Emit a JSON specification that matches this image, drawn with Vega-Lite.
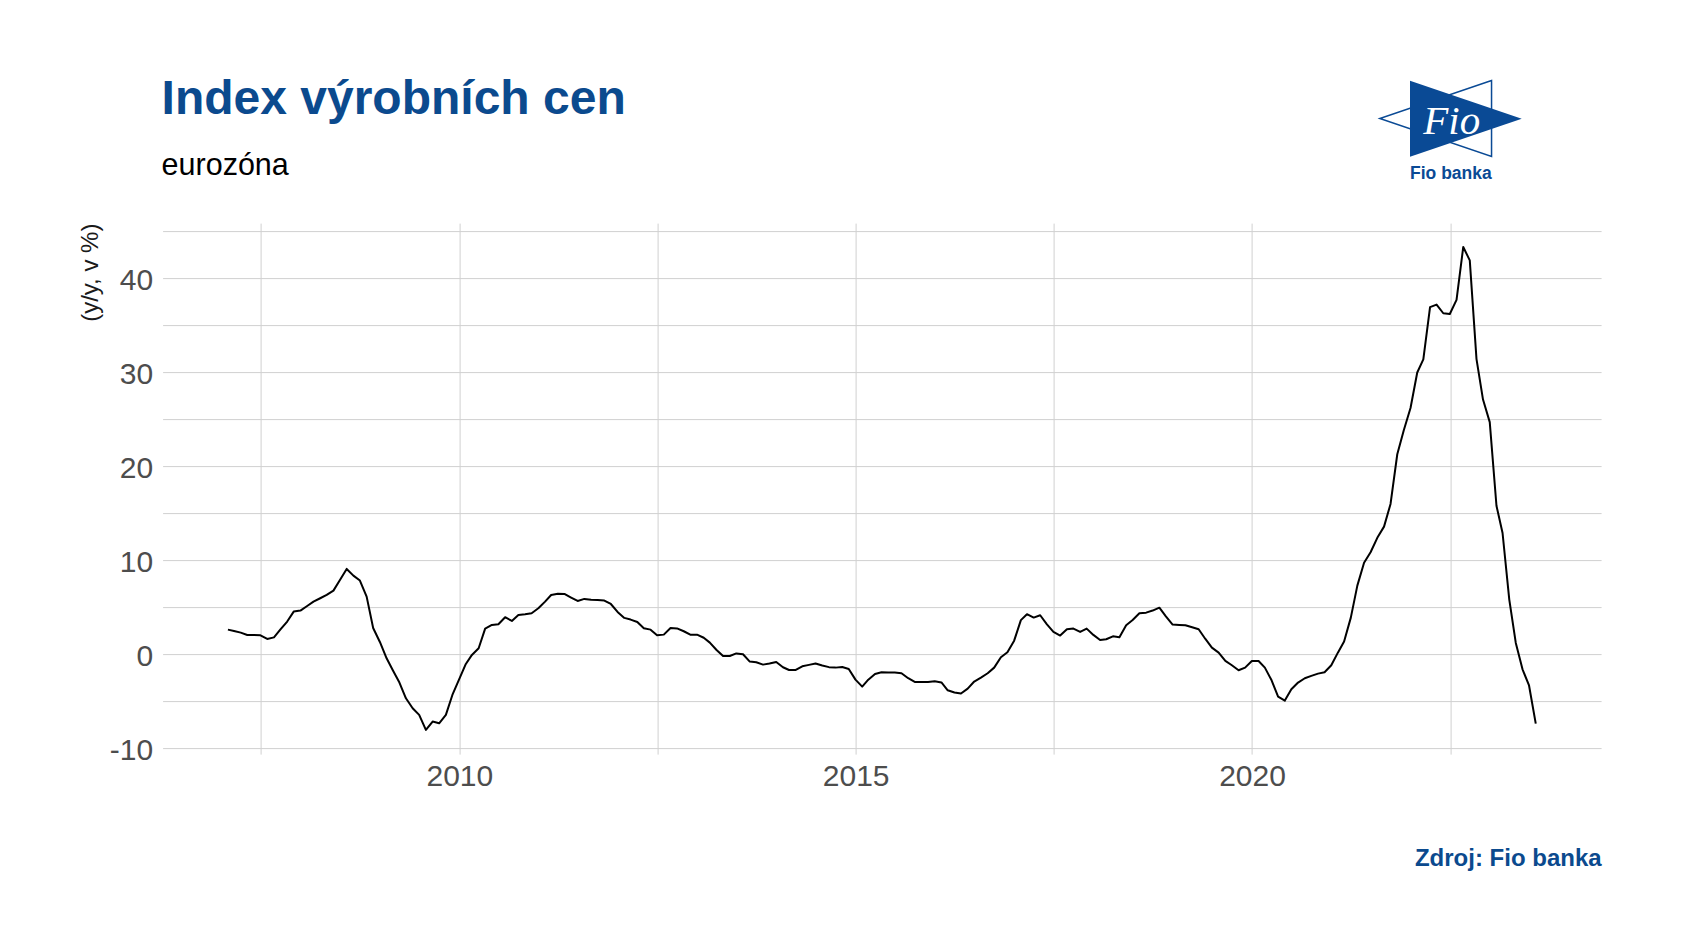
{
  "$schema": "https://vega.github.io/schema/vega-lite/v6.json",
  "autosize": {"type": "none"},
  "width": 1438.5,
  "height": 531,
  "padding": {"left": 162.6, "top": 223.1, "right": 80.9, "bottom": 197.9},
  "background": "white",
  "config": {"view": {"stroke": null}, "font": "Liberation Sans"},
  "title": {
    "text": "Index výrobních cen",
    "subtitle": "eurozóna",
    "anchor": "start",
    "frame": "group",
    "font": "Liberation Sans",
    "fontSize": 48,
    "fontWeight": "bold",
    "color": "#0b4a8e",
    "subtitleFont": "Liberation Sans",
    "subtitleFontSize": 30.5,
    "subtitleFontWeight": "normal",
    "subtitleColor": "#000000",
    "subtitlePadding": 27,
    "offset": -103.7,
    "dx": -1
  },
  "layer": [
    {
      "data": {"values": [
        {"date":"2007-01-31","value":2.62},{"date":"2007-02-28","value":2.48},{"date":"2007-03-31","value":2.3},{"date":"2007-04-30","value":2.05},{"date":"2007-05-31","value":2.06},{"date":"2007-06-30","value":2.02},{"date":"2007-07-31","value":1.63},{"date":"2007-08-31","value":1.8},{"date":"2007-09-30","value":2.64},{"date":"2007-10-31","value":3.48},{"date":"2007-11-30","value":4.54},{"date":"2007-12-31","value":4.65},
        {"date":"2008-01-31","value":5.14},{"date":"2008-02-29","value":5.6},{"date":"2008-03-31","value":5.96},{"date":"2008-04-30","value":6.31},{"date":"2008-05-31","value":6.77},{"date":"2008-06-30","value":7.9},{"date":"2008-07-31","value":9.08},{"date":"2008-08-31","value":8.37},{"date":"2008-09-30","value":7.84},{"date":"2008-10-31","value":6.13},{"date":"2008-11-30","value":2.8},{"date":"2008-12-31","value":1.31},
        {"date":"2009-01-31","value":-0.43},{"date":"2009-02-28","value":-1.67},{"date":"2009-03-31","value":-3.01},{"date":"2009-04-30","value":-4.68},{"date":"2009-05-31","value":-5.74},{"date":"2009-06-30","value":-6.45},{"date":"2009-07-31","value":-8.05},{"date":"2009-08-31","value":-7.16},{"date":"2009-09-30","value":-7.34},{"date":"2009-10-31","value":-6.45},{"date":"2009-11-30","value":-4.33},{"date":"2009-12-31","value":-2.66},
        {"date":"2010-01-31","value":-1.03},{"date":"2010-02-28","value":-0.07},{"date":"2010-03-31","value":0.64},{"date":"2010-04-30","value":2.73},{"date":"2010-05-31","value":3.12},{"date":"2010-06-30","value":3.19},{"date":"2010-07-31","value":3.94},{"date":"2010-08-31","value":3.55},{"date":"2010-09-30","value":4.18},{"date":"2010-10-31","value":4.26},{"date":"2010-11-30","value":4.36},{"date":"2010-12-31","value":4.89},
        {"date":"2011-01-31","value":5.6},{"date":"2011-02-28","value":6.31},{"date":"2011-03-31","value":6.45},{"date":"2011-04-30","value":6.42},{"date":"2011-05-31","value":6.03},{"date":"2011-06-30","value":5.67},{"date":"2011-07-31","value":5.89},{"date":"2011-08-31","value":5.8},{"date":"2011-09-30","value":5.78},{"date":"2011-10-31","value":5.71},{"date":"2011-11-30","value":5.35},{"date":"2011-12-31","value":4.5},
        {"date":"2012-01-31","value":3.87},{"date":"2012-02-29","value":3.69},{"date":"2012-03-31","value":3.44},{"date":"2012-04-30","value":2.77},{"date":"2012-05-31","value":2.62},{"date":"2012-06-30","value":2.02},{"date":"2012-07-31","value":2.09},{"date":"2012-08-31","value":2.8},{"date":"2012-09-30","value":2.75},{"date":"2012-10-31","value":2.45},{"date":"2012-11-30","value":2.09},{"date":"2012-12-31","value":2.09},
        {"date":"2013-01-31","value":1.76},{"date":"2013-02-28","value":1.24},{"date":"2013-03-31","value":0.46},{"date":"2013-04-30","value":-0.18},{"date":"2013-05-31","value":-0.18},{"date":"2013-06-30","value":0.09},{"date":"2013-07-31","value":0.0},{"date":"2013-08-31","value":-0.78},{"date":"2013-09-30","value":-0.85},{"date":"2013-10-31","value":-1.1},{"date":"2013-11-30","value":-0.99},{"date":"2013-12-31","value":-0.82},
        {"date":"2014-01-31","value":-1.38},{"date":"2014-02-28","value":-1.67},{"date":"2014-03-31","value":-1.67},{"date":"2014-04-30","value":-1.28},{"date":"2014-05-31","value":-1.13},{"date":"2014-06-30","value":-0.98},{"date":"2014-07-31","value":-1.2},{"date":"2014-08-31","value":-1.37},{"date":"2014-09-30","value":-1.42},{"date":"2014-10-31","value":-1.35},{"date":"2014-11-30","value":-1.56},{"date":"2014-12-31","value":-2.7},
        {"date":"2015-01-31","value":-3.44},{"date":"2015-02-28","value":-2.7},{"date":"2015-03-31","value":-2.09},{"date":"2015-04-30","value":-1.91},{"date":"2015-05-31","value":-1.93},{"date":"2015-06-30","value":-1.95},{"date":"2015-07-31","value":-2.02},{"date":"2015-08-31","value":-2.55},{"date":"2015-09-30","value":-2.94},{"date":"2015-10-31","value":-2.94},{"date":"2015-11-30","value":-2.94},{"date":"2015-12-31","value":-2.87},
        {"date":"2016-01-31","value":-3.0},{"date":"2016-02-29","value":-3.83},{"date":"2016-03-31","value":-4.06},{"date":"2016-04-30","value":-4.18},{"date":"2016-05-31","value":-3.65},{"date":"2016-06-30","value":-2.9},{"date":"2016-07-31","value":-2.48},{"date":"2016-08-31","value":-2.02},{"date":"2016-09-30","value":-1.42},{"date":"2016-10-31","value":-0.32},{"date":"2016-11-30","value":0.21},{"date":"2016-12-31","value":1.45},
        {"date":"2017-01-31","value":3.63},{"date":"2017-02-28","value":4.26},{"date":"2017-03-31","value":3.9},{"date":"2017-04-30","value":4.15},{"date":"2017-05-31","value":3.19},{"date":"2017-06-30","value":2.38},{"date":"2017-07-31","value":1.99},{"date":"2017-08-31","value":2.66},{"date":"2017-09-30","value":2.73},{"date":"2017-10-31","value":2.38},{"date":"2017-11-30","value":2.73},{"date":"2017-12-31","value":2.06},
        {"date":"2018-01-31","value":1.52},{"date":"2018-02-28","value":1.6},{"date":"2018-03-31","value":1.91},{"date":"2018-04-30","value":1.81},{"date":"2018-05-31","value":3.09},{"date":"2018-06-30","value":3.65},{"date":"2018-07-31","value":4.36},{"date":"2018-08-31","value":4.43},{"date":"2018-09-30","value":4.65},{"date":"2018-10-31","value":4.96},{"date":"2018-11-30","value":4.04},{"date":"2018-12-31","value":3.16},
        {"date":"2019-01-31","value":3.12},{"date":"2019-02-28","value":3.09},{"date":"2019-03-31","value":2.87},{"date":"2019-04-30","value":2.66},{"date":"2019-05-31","value":1.63},{"date":"2019-06-30","value":0.71},{"date":"2019-07-31","value":0.18},{"date":"2019-08-31","value":-0.71},{"date":"2019-09-30","value":-1.17},{"date":"2019-10-31","value":-1.7},{"date":"2019-11-30","value":-1.42},{"date":"2019-12-31","value":-0.71},
        {"date":"2020-01-31","value":-0.71},{"date":"2020-02-29","value":-1.42},{"date":"2020-03-31","value":-2.77},{"date":"2020-04-30","value":-4.5},{"date":"2020-05-31","value":-4.93},{"date":"2020-06-30","value":-3.72},{"date":"2020-07-31","value":-3.01},{"date":"2020-08-31","value":-2.55},{"date":"2020-09-30","value":-2.3},{"date":"2020-10-31","value":-2.06},{"date":"2020-11-30","value":-1.91},{"date":"2020-12-31","value":-1.17},
        {"date":"2021-01-31","value":0.2},{"date":"2021-02-28","value":1.35},{"date":"2021-03-31","value":3.9},{"date":"2021-04-30","value":7.3},{"date":"2021-05-31","value":9.73},{"date":"2021-06-30","value":10.85},{"date":"2021-07-31","value":12.39},{"date":"2021-08-31","value":13.58},{"date":"2021-09-30","value":15.99},{"date":"2021-10-31","value":21.28},{"date":"2021-11-30","value":23.83},{"date":"2021-12-31","value":26.2},
        {"date":"2022-01-31","value":29.98},{"date":"2022-02-28","value":31.38},{"date":"2022-03-31","value":36.93},{"date":"2022-04-30","value":37.2},{"date":"2022-05-31","value":36.28},{"date":"2022-06-30","value":36.2},{"date":"2022-07-31","value":37.7},{"date":"2022-08-31","value":43.33},{"date":"2022-09-30","value":41.9},{"date":"2022-10-31","value":31.4},{"date":"2022-11-30","value":27.1},{"date":"2022-12-31","value":24.7},
        {"date":"2023-01-31","value":15.8},{"date":"2023-02-28","value":12.9},{"date":"2023-03-31","value":5.82},{"date":"2023-04-30","value":1.21},{"date":"2023-05-31","value":-1.6},{"date":"2023-06-30","value":-3.32},{"date":"2023-07-31","value":-7.38}
      ]},
      "mark": {"type": "line", "color": "#000000", "strokeWidth": 2, "strokeJoin": "round"},
      "encoding": {
        "x": {
          "field": "date",
          "type": "temporal",
          "scale": {"type": "utc", "domain": [{"year": 2006, "month": 4, "date": 5, "utc": true}, {"year": 2024, "month": 5, "date": 27, "utc": true}]},
          "axis": {
            "values": [
              {"year": 2007, "month": 7, "date": 2, "hours": 12, "utc": true},
              {"year": 2010, "month": 1, "date": 1, "utc": true},
              {"year": 2012, "month": 7, "date": 2, "hours": 12, "utc": true},
              {"year": 2015, "month": 1, "date": 1, "utc": true},
              {"year": 2017, "month": 7, "date": 2, "hours": 12, "utc": true},
              {"year": 2020, "month": 1, "date": 1, "utc": true},
              {"year": 2022, "month": 7, "date": 2, "hours": 12, "utc": true}
            ],
            "labelExpr": "utcmonth(datum.value) == 0 ? utcFormat(datum.value, '%Y') : ''",
            "domain": false,
            "ticks": false,
            "tickSize": 0,
            "grid": true,
            "gridColor": "#d0d0d0",
            "gridWidth": 1,
            "labelFont": "Liberation Sans",
            "labelFontSize": 30,
            "labelColor": "#4d4d4d",
            "labelPadding": 7,
            "labelFlush": false,
            "labelOverlap": false,
            "title": "Zdroj: Fio banka",
            "titleFont": "Liberation Sans",
            "titleFontSize": 24,
            "titleFontWeight": "bold",
            "titleColor": "#0b4a8e",
            "titleAlign": "right",
            "titleBaseline": "alphabetic",
            "titleX": 1438.5,
            "titleY": 111.6
          }
        },
        "y": {
          "field": "value",
          "type": "quantitative",
          "scale": {"domain": [-10.62, 45.87], "nice": false, "zero": false},
          "axis": {
            "values": [-10, -5, 0, 5, 10, 15, 20, 25, 30, 35, 40, 45],
            "labelExpr": "datum.value % 10 === 0 ? '' + datum.value : ''",
            "domain": false,
            "ticks": false,
            "tickSize": 0,
            "grid": true,
            "gridColor": "#d0d0d0",
            "gridWidth": 1,
            "labelFont": "Liberation Sans",
            "labelFontSize": 30,
            "labelColor": "#4d4d4d",
            "labelPadding": 10,
            "labelBaseline": "middle",
            "labelOffset": 2,
            "labelOverlap": false,
            "labelFlush": false,
            "title": "(y/y, v %)",
            "titleFont": "Liberation Sans",
            "titleFontSize": 24,
            "titleFontWeight": "normal",
            "titleColor": "#1a1a1a",
            "titleAngle": -90,
            "titleAlign": "right",
            "titleBaseline": "alphabetic",
            "titleX": -65.6,
            "titleY": 0
          }
        }
      }
    },
    {
      "data": {"values": [{"logo": "outline"}]},
      "mark": {"type": "point", "shape": "M 1 -0.68 L -1 0 L 1 0.68 Z", "filled": false, "stroke": "#0a4a95", "strokeWidth": 1.5, "size": 12477, "opacity": 1},
      "encoding": {
        "x": {"datum": {"year": 2022, "month": 4, "date": 26, "utc": true}, "type": "temporal"},
        "y": {"datum": 57.0, "type": "quantitative"}
      }
    },
    {
      "data": {"values": [{"logo": "arrow"}]},
      "mark": {"type": "point", "shape": "M -1 -0.68 L 1 0 L -1 0.68 Z", "filled": true, "fill": "#0a4a95", "strokeWidth": 0, "size": 12477, "opacity": 1},
      "encoding": {
        "x": {"datum": {"year": 2022, "month": 9, "date": 12, "utc": true}, "type": "temporal"},
        "y": {"datum": 56.98, "type": "quantitative"}
      }
    },
    {
      "data": {"values": [{"logo": "Fio"}]},
      "mark": {"type": "text", "font": "Liberation Serif", "fontSize": 41, "fontStyle": "italic", "color": "#ffffff", "align": "center", "baseline": "alphabetic"},
      "encoding": {
        "x": {"datum": {"year": 2022, "month": 7, "date": 9, "utc": true}, "type": "temporal"},
        "y": {"datum": 55.4, "type": "quantitative"},
        "text": {"field": "logo"}
      }
    },
    {
      "data": {"values": [{"logo": "Fio banka"}]},
      "mark": {"type": "text", "font": "Liberation Sans", "fontSize": 17.5, "fontWeight": "bold", "color": "#0a4a95", "align": "center", "baseline": "alphabetic"},
      "encoding": {
        "x": {"datum": {"year": 2022, "month": 7, "date": 5, "utc": true}, "type": "temporal"},
        "y": {"datum": 50.56, "type": "quantitative"},
        "text": {"field": "logo"}
      }
    }
  ]
}
